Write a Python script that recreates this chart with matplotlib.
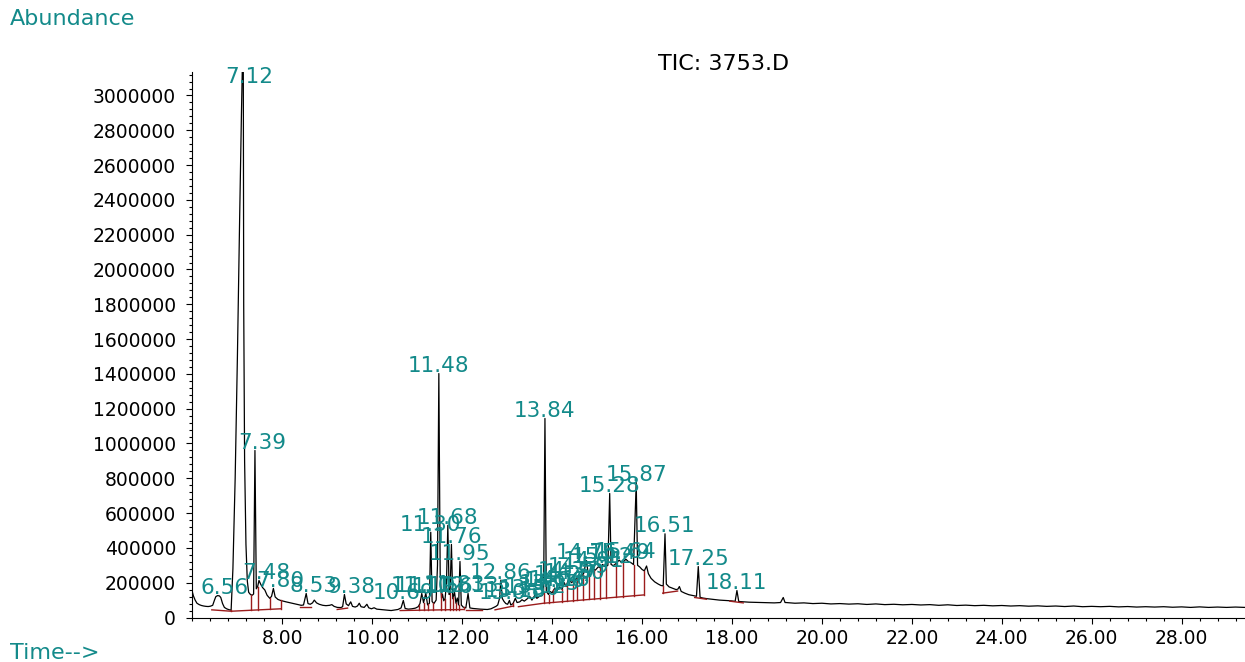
import numpy as np
import matplotlib
matplotlib.use("Agg")
import matplotlib.pyplot as plt
from matplotlib.ticker import FixedLocator, MultipleLocator, FuncFormatter


# TIC trace (time in min, abundance in thousands)
trace_t = [
    5.99, 6.02, 6.06, 6.10, 6.15, 6.20, 6.25, 6.30, 6.35, 6.40, 6.45, 6.49, 6.52, 6.56,
    6.60, 6.63, 6.67, 6.71, 6.76, 6.81, 6.86, 6.90, 6.95, 7.00, 7.05, 7.09, 7.12, 7.13,
    7.14, 7.16, 7.19, 7.22, 7.25, 7.29, 7.33, 7.36, 7.39, 7.42, 7.45, 7.48, 7.52, 7.56,
    7.61, 7.66, 7.72, 7.76, 7.80, 7.84, 7.90, 7.96, 8.02, 8.08, 8.15, 8.22, 8.30, 8.36,
    8.42, 8.47, 8.53, 8.57, 8.62, 8.67, 8.71, 8.76, 8.82, 8.90, 8.97, 9.05, 9.10, 9.15,
    9.22, 9.30, 9.34, 9.38, 9.42, 9.47, 9.52, 9.56, 9.62, 9.67, 9.71, 9.75, 9.82, 9.88,
    9.92, 9.98, 10.04, 10.10, 10.18, 10.26, 10.34, 10.42, 10.50, 10.57, 10.64, 10.69,
    10.73, 10.80, 10.88, 10.96, 11.02, 11.06, 11.10, 11.14, 11.19, 11.23, 11.27, 11.30,
    11.33, 11.37, 11.42, 11.45, 11.48, 11.51, 11.54, 11.56, 11.59, 11.62, 11.65, 11.68,
    11.71, 11.73, 11.76, 11.79, 11.83, 11.86, 11.89, 11.92, 11.95, 11.98, 12.02, 12.08,
    12.13, 12.17, 12.24, 12.32, 12.40, 12.48, 12.56, 12.64, 12.70, 12.75, 12.79, 12.83,
    12.86, 12.89, 12.93, 12.97, 13.01, 13.05, 13.08, 13.13, 13.18, 13.22, 13.28, 13.33,
    13.38, 13.44, 13.50, 13.55, 13.62, 13.66, 13.72, 13.78, 13.81, 13.84, 13.87, 13.92,
    13.95, 14.00, 14.06, 14.10, 14.16, 14.22, 14.27, 14.31, 14.37, 14.43, 14.50, 14.54,
    14.59, 14.64, 14.70, 14.76, 14.80, 14.86, 14.91, 14.96, 15.03, 15.08, 15.12, 15.18,
    15.24, 15.28, 15.31, 15.36, 15.42, 15.49, 15.55, 15.60, 15.64, 15.70, 15.76, 15.81,
    15.87, 15.90, 15.95, 16.00, 16.05, 16.10, 16.14, 16.20, 16.28, 16.36, 16.42, 16.47,
    16.51, 16.54, 16.60, 16.68, 16.76, 16.80, 16.83, 16.87, 16.95, 17.04, 17.13, 17.21,
    17.25, 17.29, 17.35, 17.45, 17.58, 17.72, 17.85, 17.97, 18.07, 18.11, 18.15, 18.25,
    18.38, 18.52, 18.66, 18.80, 18.94, 19.08, 19.14, 19.18,
    19.2, 19.4, 19.6, 19.8, 20.0, 20.2, 20.4, 20.6, 20.8, 21.0, 21.2, 21.4, 21.6, 21.8,
    22.0, 22.2, 22.4, 22.6, 22.8, 23.0, 23.2, 23.4, 23.6, 23.8, 24.0, 24.2, 24.4, 24.6,
    24.8, 25.0, 25.2, 25.4, 25.6, 25.8, 26.0, 26.2, 26.4, 26.6, 26.8, 27.0, 27.2, 27.4,
    27.6, 27.8, 28.0, 28.2, 28.4, 28.6, 28.8, 29.0, 29.2, 29.4, 29.5,
]
trace_k = [
    155, 125, 100, 82, 74, 69, 66, 64, 63, 65, 70, 100, 120, 126,
    124, 115, 80, 58, 50, 45, 42, 280, 800, 1500, 2300, 2900, 3300, 3300,
    1800, 900, 420, 210, 145, 132, 128, 135, 960, 165, 178, 213, 190, 172,
    158, 128, 110, 122, 167, 118, 104, 98, 94, 90, 86, 82, 78, 74,
    70, 72, 138, 80, 76, 84, 100, 84, 76, 70, 68, 70, 74, 64,
    58, 57, 62, 132, 78, 68, 90, 64, 60, 66, 82, 62, 58, 76,
    56, 50, 56, 48, 46, 44, 42, 40, 43, 46, 55, 98,
    52, 48, 50, 54, 62, 80, 138, 85, 140, 72, 82, 490,
    92, 80, 100, 300, 1402, 250, 112, 135, 96, 110, 200, 530,
    132, 152, 420, 108, 144, 82, 112, 72, 322, 72, 60, 55,
    138, 55, 52, 50, 48, 47, 46, 50, 58, 64, 72, 110,
    215, 110, 92, 80, 76, 98, 72, 80, 110, 86, 90, 102,
    94, 106, 122, 100, 130, 110, 122, 126, 140, 1144, 150, 132,
    150, 142, 170, 152, 175, 162, 200, 178, 225, 200, 215, 222,
    245, 235, 252, 328, 258, 266, 280, 272, 292, 284, 305, 292,
    300, 713, 305, 298, 310, 330, 314, 324, 335, 320, 314, 304,
    776, 300, 290, 276, 268, 296, 252, 225, 205, 192, 184, 182,
    481, 192, 176, 168, 160, 164, 178, 150, 140, 131, 126, 122,
    293, 116, 112, 108, 104, 100, 98, 96, 93, 155, 92, 90,
    88, 87, 86, 85, 84, 86, 115, 86,
    86, 82, 84, 80, 82, 78, 80, 77, 79, 75, 78, 74, 76, 73,
    75, 72, 74, 70, 73, 69, 71, 68, 70, 67, 69, 66, 68, 65,
    67, 64, 66, 63, 66, 62, 64, 62, 64, 61, 63, 60, 62, 60,
    62, 59, 61, 58, 61, 58, 60, 58, 60, 58, 59,
]

# integrator baselines (time, abundance in thousands)
baselines = [
    ([6.43, 6.86, 7.96], [44, 36, 50]),
    ([8.40, 8.63], [58, 58]),
    ([9.22, 9.45], [46, 54]),
    ([10.62, 12.04], [40, 46]),
    ([12.08, 12.45], [44, 44]),
    ([12.73, 13.14], [44, 66]),
    ([13.25, 13.81, 16.05], [62, 82, 130]),
    ([16.46, 16.79], [140, 152]),
    ([17.17, 17.43], [115, 105]),
    ([17.95, 18.25], [94, 84]),
]
drop_times = [6.86, 7.31, 7.45, 7.72, 7.96, 11.04, 11.14, 11.25, 11.36, 11.53,
              11.61, 11.72, 11.80, 11.86, 11.92, 12.04, 13.14, 13.81, 13.92, 14.03,
              14.22, 14.33, 14.47, 14.56, 14.68, 14.83, 14.94, 15.06, 15.20, 15.41,
              15.58, 15.81, 16.05, 16.46]

peak_labels = ["6.56", "7.39", "7.48", "7.80", "8.53", "9.38", "10.69", "11.10",
               "11.19", "11.30", "11.48", "11.56", "11.68", "11.76", "11.83", "11.95",
               "12.13", "12.86", "13.05", "13.18", "13.50", "13.62", "13.84", "13.95",
               "14.06", "14.16", "14.27", "14.37", "14.50", "14.59", "14.76", "14.91",
               "15.12", "15.28", "15.49", "15.64", "15.87", "16.51", "17.25", "18.11"]
top_label = "7.12"

teal = "#138a8a"
red = "#9b1c1c"
fs = 13.5      # tick labels
lfs = 15.5     # peak labels
tfs = 16       # titles

t = np.array(trace_t)
a = np.array(trace_k) * 1000

fig = plt.figure(figsize=(12.45, 6.62), dpi=100)
ax = fig.add_axes([192 / 1245, 1 - 617.5 / 662, 1 - 192 / 1245, (617.5 - 72) / 662])

ax.plot(t, a, color="black", lw=0.9)

bl_t = []
bl_a = []
for bt, ba in baselines:
    ax.plot(bt, np.array(ba) * 1000, color=red, lw=1.0)
    bl_t += bt
    bl_a += ba
bl_a = np.array(bl_a) * 1000

for d in drop_times:
    lo = np.interp(d, bl_t, bl_a)
    hi = np.interp(d, t, a)
    ax.plot([d, d], [lo, hi], color=red, lw=1.0)


def put_label(s, x, y):
    # decimal point sits over the peak apex
    n = len(s.split(".")[0])
    ax.annotate(s, (x, y), xytext=(0.636 * (1 - n / 2) * lfs, 1),
                textcoords="offset points", ha="center", va="baseline",
                color=teal, fontsize=lfs, clip_on=False)


for s in peak_labels:
    x = float(s)
    put_label(s, x, np.interp(x, t, a))
put_label(top_label, float(top_label), 3066000)

ax.set_xlim(5.99, 29.41)
ax.set_ylim(0, 3135000)

for side in ["top", "right"]:
    ax.spines[side].set_visible(False)

ax.xaxis.set_major_locator(FixedLocator(np.arange(8, 29, 2)))
ax.xaxis.set_minor_locator(MultipleLocator(0.4))
ax.xaxis.set_major_formatter(FuncFormatter(lambda v, p: f"{v:.2f}"))
ax.yaxis.set_major_locator(MultipleLocator(200000))
ax.yaxis.set_minor_locator(MultipleLocator(40000))
ax.yaxis.set_major_formatter(FuncFormatter(lambda v, p: f"{int(round(v))}"))

ax.tick_params(which="major", length=4.5, width=0.8, labelsize=fs, pad=4)
ax.tick_params(which="minor", length=2.5, width=0.8)
ax.tick_params(axis="y", which="major", pad=7)

fig.text(10 / 1245, 1 - 19 / 662, "Abundance", color=teal, fontsize=tfs,
         ha="left", va="center")
fig.text(10 / 1245, 1 - 653 / 662, "Time-->", color=teal, fontsize=tfs,
         ha="left", va="center")
fig.text(724 / 1245, 1 - 64 / 662, "TIC: 3753.D", color="black", fontsize=tfs,
         ha="center", va="center")

fig.savefig("out.png", dpi=100)
